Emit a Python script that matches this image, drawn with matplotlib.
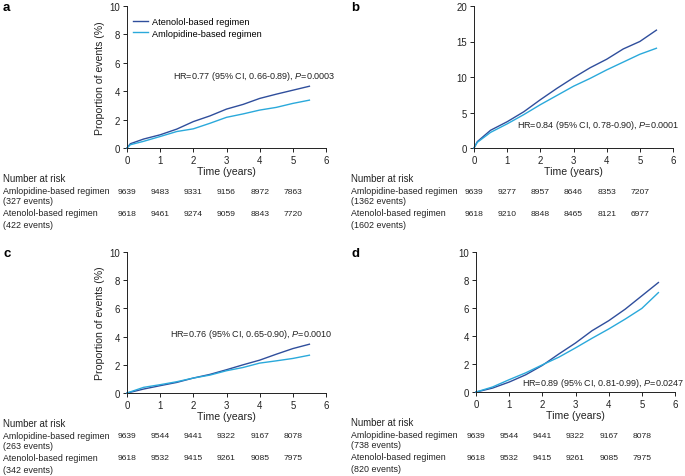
import matplotlib
matplotlib.use("Agg")
import matplotlib.pyplot as plt
import matplotlib.transforms as mtransforms

plt.rcParams['font.family'] = ['Liberation Sans', 'DejaVu Sans']
plt.rcParams['mathtext.fontset'] = 'custom'
plt.rcParams['mathtext.rm'] = 'Liberation Sans'
plt.rcParams['mathtext.it'] = 'Liberation Sans:italic'

TXT = '#222222'
DARK = '#2f4e9c'
CYAN = '#2aa9db'

# time points (years) where the curves were read
t = [0, 0.1, 0.5, 1.0, 1.5, 2.0, 2.5, 3.0, 3.5, 4.0, 4.5, 5.0, 5.5]

# panel a
a_aten = [0, 0.30, 0.63, 0.93, 1.33, 1.86, 2.26, 2.74, 3.07, 3.49, 3.79, 4.07, 4.35]
a_amlo = [0, 0.23, 0.47, 0.81, 1.16, 1.35, 1.74, 2.16, 2.40, 2.67, 2.86, 3.14, 3.37]
# panel b
b_aten = [0, 0.9, 2.5, 3.7, 5.1, 6.8, 8.4, 9.9, 11.3, 12.5, 13.95, 15.0, 16.6]
b_amlo = [0, 0.8, 2.2, 3.4, 4.7, 6.1, 7.4, 8.7, 9.8, 11.0, 12.1, 13.2, 14.05]
# panel c
c_aten = [0, 0.05, 0.28, 0.52, 0.75, 1.06, 1.32, 1.65, 2.00, 2.33, 2.75, 3.15, 3.46]
c_amlo = [0, 0.08, 0.40, 0.59, 0.80, 1.06, 1.27, 1.58, 1.81, 2.12, 2.28, 2.45, 2.68]
# panel d
d_aten = [0, 0.05, 0.28, 0.71, 1.23, 1.90, 2.72, 3.50, 4.38, 5.09, 5.92, 6.87, 7.82]
d_amlo = [0, 0.07, 0.36, 0.88, 1.37, 1.94, 2.49, 3.15, 3.84, 4.50, 5.21, 5.97, 7.10]

risk_years = [0, 1, 2, 3, 4, 5]
a_risk_amlo = [9639, 9483, 9331, 9156, 8972, 7863]
a_risk_aten = [9618, 9461, 9274, 9059, 8843, 7720]
b_risk_amlo = [9639, 9277, 8957, 8646, 8353, 7207]
b_risk_aten = [9618, 9210, 8848, 8465, 8121, 6977]
c_risk_amlo = [9639, 9544, 9441, 9322, 9167, 8078]
c_risk_aten = [9618, 9532, 9415, 9261, 9085, 7975]
d_risk_amlo = [9639, 9544, 9441, 9322, 9167, 8078]
d_risk_aten = [9618, 9532, 9415, 9261, 9085, 7975]

events = {'a': (327, 422), 'b': (1362, 1602), 'c': (263, 342), 'd': (738, 820)}
hr_text = {
    'a': 'HR=0.77 (95% CI, 0.66-0.89), $\\it{P}$=0.0003',
    'b': 'HR=0.84 (95% CI, 0.78-0.90), $\\it{P}$=0.0001',
    'c': 'HR=0.76 (95% CI, 0.65-0.90), $\\it{P}$=0.0010',
    'd': 'HR=0.89 (95% CI, 0.81-0.99), $\\it{P}$=0.0247',
}
hr_pos = {'a': (1.39, 5.1), 'b': (1.30, 3.3), 'c': (1.30, 4.2), 'd': (1.38, 0.71)}

W, H = 685, 477
fig = plt.figure(figsize=(W / 100, H / 100), dpi=100)


def box(x0, x1, ytop, ybot):
    return [x0 / W, 1 - ybot / H, (x1 - x0) / W, (ybot - ytop) / H]


panels = [
    ('a', box(127, 326, 7, 149), a_aten, a_amlo, 10, 2, a_risk_amlo, a_risk_aten, 3),
    ('b', box(474, 673, 7, 149), b_aten, b_amlo, 20, 5, b_risk_amlo, b_risk_aten, 351),
    ('c', box(127, 326, 253, 394), c_aten, c_amlo, 10, 2, c_risk_amlo, c_risk_aten, 3),
    ('d', box(476, 675, 253, 393), d_aten, d_amlo, 10, 2, d_risk_amlo, d_risk_aten, 351),
]

for name, rect, aten, amlo, ymax, ystep, r_amlo, r_aten, lx in panels:
    ax = fig.add_axes(rect)
    ax.plot(t, aten, color=DARK, lw=1.0, label='Atenolol-based regimen', clip_on=False)
    ax.plot(t, amlo, color=CYAN, lw=1.0, label='Amlopidine-based regimen', clip_on=False)
    ax.set_xlim(0, 6)
    ax.set_ylim(0, ymax)
    ax.set_xticks(range(0, 7))
    ax.set_yticks(range(0, ymax + 1, ystep))
    for s in ['top', 'right']:
        ax.spines[s].set_visible(False)
    for s in ['left', 'bottom']:
        ax.spines[s].set_linewidth(0.7)
        ax.spines[s].set_color(TXT)
    ax.tick_params(labelsize=6.9, length=3, width=0.7, pad=2, colors=TXT)
    ax.set_xlabel('Time (years)', fontsize=7.6, labelpad=0.5, color=TXT)
    if name in ('a', 'c'):
        ax.set_ylabel('Proportion of events (%)', fontsize=7.6, labelpad=3, color=TXT)
    if name == 'a':
        ax.legend(loc='upper left', bbox_to_anchor=(0.03, 0.92), frameon=False,
                  fontsize=6.6, handlelength=1.6, handletextpad=0.5,
                  labelspacing=0.25, borderaxespad=0, borderpad=0)
    hx, hy = hr_pos[name]
    ax.text(hx, hy, hr_text[name], fontsize=6.5, va='center', ha='left', color=TXT)

    # panel letter
    top_px = (1 - rect[1] - rect[3]) * H
    fig.text(lx / W, 1 - (top_px - 5) / H, name, fontsize=9.5, fontweight='bold',
             va='top', ha='left')

    # number at risk table
    ax_h = rect[3] * H
    bot_px = (1 - rect[1]) * H
    blend = mtransforms.blended_transform_factory(ax.transData, ax.transAxes)
    ev_amlo, ev_aten = events[name]
    rows = [(30, 'Number at risk'),
            (43, 'Amlopidine-based regimen'),
            (53, '(%d events)' % ev_amlo),
            (65, 'Atenolol-based regimen'),
            (77, '(%d events)' % ev_aten)]
    for off, lab in rows:
        fs = 6.9 if off == 30 else 6.4
        fig.text(lx / W, 1 - (bot_px + off) / H, lab, fontsize=fs,
                 va='center', ha='left', color=TXT)
    for yr, n1, n2 in zip(risk_years, r_amlo, r_aten):
        ax.text(yr, -43 / ax_h, str(n1), transform=blend, fontsize=6.1,
                ha='center', va='center', color=TXT)
        ax.text(yr, -65 / ax_h, str(n2), transform=blend, fontsize=6.1,
                ha='center', va='center', color=TXT)

fig.savefig('out.png', dpi=100)
